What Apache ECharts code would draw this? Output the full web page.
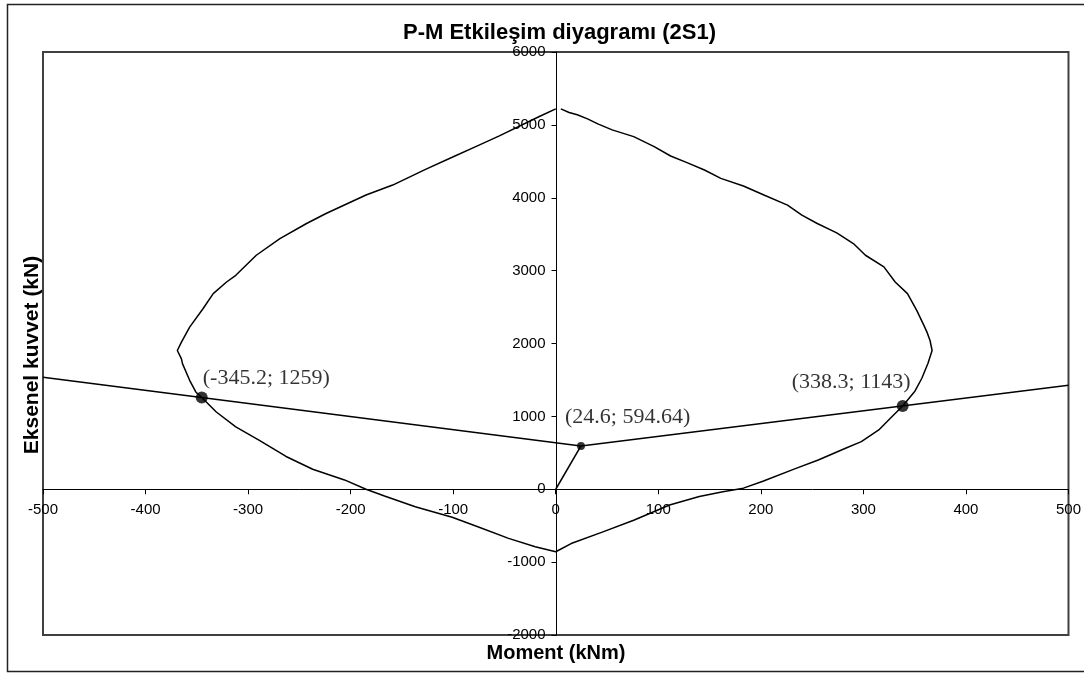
<!DOCTYPE html>
<html>
<head>
<meta charset="utf-8">
<script src="https://cdn.jsdelivr.net/npm/echarts@6/dist/echarts.min.js"></script>
<style>
html,body{margin:0;padding:0;background:#fff;}
#chart{width:1084px;height:673px;}
</style>
</head>
<body>
<div id="chart"></div>
<script>
// Interaction envelope (Moment kNm, Axial kN), traced counter-clockwise from the top
const envelopeMoment = [0,-16,-55,-78,-101,-127,-159,-185,-224,-243,-269,-292,-312,-321,-334,-344,-357,-365,-369,-365,-364,-357,-351,-345.2,-331,-312,-289,-263,-237,-206,-185,-167,-137,-101,-76,-46,-20,0,
  15,46,76,111,140,163,183,202,233,256,282,298,315,328,338.3,350,357,363,367,365,362,359,352,343,331,320,302,291,274,255,240,226,203,183,161,145,128,112,96,76,55,41,31,21,13,5,0];
const envelopeAxial = [5220,5115,4849,4702,4555,4390,4174,4037,3784,3647,3440,3211,2936,2844,2684,2477,2225,2018,1904,1789,1724,1495,1335,1259,1060,855,672,450,275,128,0,-92,-239,-385,-514,-674,-789,-858,
  -745,-585,-425,-216,-100,-35,15,110,280,402,560,654,814,997,1143,1340,1523,1729,1904,2041,2156,2248,2455,2684,2844,3051,3211,3362,3518,3647,3761,3899,4037,4161,4266,4381,4482,4573,4702,4839,4931,5014,5083,5138,5170,5220];
// Load line through the demand point, extended to the axis limits
const loadLineMoment = [-500, 24.6, 500];
const loadLineAxial = [1537, 594.64, 1426];
const originMoment = [0, 24.6];
const originAxial = [0, 594.64];
// Labelled points
const pointMoment = [-345.2, 24.6, 338.3];
const pointAxial = [1259, 594.64, 1143];
const pointLabels = ['(-345.2; 1259)', '(24.6; 594.64)', '(338.3; 1143)'];
const xTicks = {min: -500, max: 500, step: 100};
const yTicks = {min: -2000, max: 6000, step: 1000};

const zip = (a, b) => a.map((v, i) => [v, b[i]]);
const labelPos = [
  {position: [7, -13], align: 'left'},
  {position: [-12, -25], align: 'left'},
  {position: [14, -18], align: 'right'}
];
const sizes = [12, 8, 12];

// grid geometry
const G = {left: 43, right: 14, top: 52, bottom: 38, w: 1084, h: 673};
const gw = G.w - G.left - G.right, gh = G.h - G.top - G.bottom;
const yAxisOffset = -gw * (0 - xTicks.min) / (xTicks.max - xTicks.min);
const xAxisOffset = -gh * (0 - yTicks.min) / (yTicks.max - yTicks.min);

const chart = echarts.init(document.getElementById('chart'));
chart.setOption({
  animation: false,
  backgroundColor: '#fff',
  title: {
    text: 'P-M Etkileşim diyagramı (2S1)',
    left: 398, top: 17,
    textStyle: {fontFamily: 'Liberation Sans, Arial', fontWeight: 'bold', fontSize: 22, color: '#000'}
  },
  grid: {left: G.left, right: G.right, top: G.top, bottom: G.bottom, show: true, borderColor: '#404040', borderWidth: 2, backgroundColor: 'transparent'},
  xAxis: {
    type: 'value', min: xTicks.min, max: xTicks.max, interval: xTicks.step,
    position: 'bottom', offset: xAxisOffset,
    axisLine: {onZero: false, lineStyle: {color: '#000', width: 1}},
    axisTick: {show: true, inside: false, length: 5, lineStyle: {color: '#000'}},
    axisLabel: {color: '#000', fontFamily: 'Liberation Sans, Arial', fontSize: 15, margin: 13, showMinLabel: true, showMaxLabel: true, formatter: v => String(v)},
    splitLine: {show: false}
  },
  yAxis: {
    type: 'value', min: yTicks.min, max: yTicks.max, interval: yTicks.step,
    position: 'left', offset: yAxisOffset,
    axisLine: {onZero: false, lineStyle: {color: '#000', width: 1}},
    axisTick: {show: true, inside: false, length: 5, lineStyle: {color: '#000'}},
    axisLabel: {color: '#000', fontFamily: 'Liberation Sans, Arial', fontSize: 15, margin: 11, showMinLabel: true, showMaxLabel: true, formatter: v => String(v)},
    splitLine: {show: false}
  },
  graphic: [
    {type: 'rect', silent: true, shape: {x: 7.5, y: 4.5, width: 1080, height: 667}, style: {fill: 'none', stroke: '#222', lineWidth: 1.5}},
    {type: 'text', x: 556, y: 653, style: {text: 'Moment (kNm)', fill: '#000', font: 'bold 20px "Liberation Sans", Arial', align: 'center', verticalAlign: 'middle'}},
    {type: 'text', x: 32, y: 355, rotation: Math.PI / 2, style: {text: 'Eksenel kuvvet (kN)', fill: '#000', font: 'bold 21px "Liberation Sans", Arial', align: 'center', verticalAlign: 'middle'}}
  ],
  series: [
    {type: 'line', data: zip(envelopeMoment, envelopeAxial), showSymbol: false, symbol: 'none', lineStyle: {color: '#000', width: 1.5}, z: 2},
    {type: 'line', data: zip(loadLineMoment, loadLineAxial), showSymbol: false, symbol: 'none', lineStyle: {color: '#000', width: 1.5}, z: 3},
    {type: 'line', data: zip(originMoment, originAxial), showSymbol: false, symbol: 'none', lineStyle: {color: '#000', width: 1.5}, z: 3},
    {
      type: 'scatter', z: 5,
      data: pointMoment.map((m, i) => ({
        value: [m, pointAxial[i]],
        symbolSize: sizes[i],
        label: {show: true, formatter: pointLabels[i], position: labelPos[i].position, align: labelPos[i].align, verticalAlign: 'middle',
          fontFamily: 'Liberation Serif, Times New Roman', fontSize: 22, color: '#000'}
      })),
      itemStyle: {color: '#000'}
    }
  ]
});
</script>
</body>
</html>
